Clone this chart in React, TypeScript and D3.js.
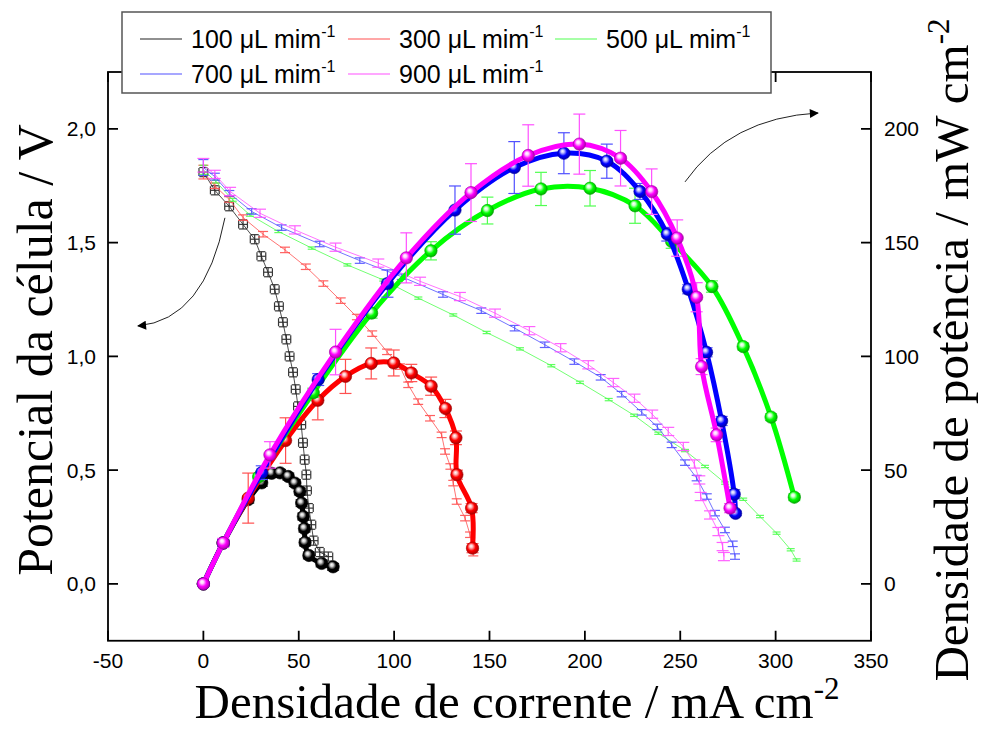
import React from "react";
import * as d3 from "d3";

const WIDTH = 983;
const HEIGHT = 729;

const xTickValues = [-50, 0, 50, 100, 150, 200, 250, 300, 350];
const vTickValues = [0, 0.5, 1.0, 1.5, 2.0];
const pTickValues = [0, 50, 100, 150, 200];

const flowRates = ["100", "300", "500", "700", "900"];
const seriesColors = ["#000000", "#ff0000", "#00ff00", "#0000ff", "#ff00ff"];
const lightColors = ["#222222", "#ff5050", "#50ff50", "#5050ff", "#ff50ff"];
const darkColors = ["#000000", "#a00000", "#00a000", "#0000a0", "#a000a0"];
const highlightColors = ["#d0d0d0", "#ffc0c0", "#d0ffd0", "#c0c0ff", "#ffd0ff"];

// Polarization curves: [j (mA cm-2), V, errV]
const polBlack = [
  [0, 1.81, 0.02], [6, 1.73, 0.02], [13.5, 1.66, 0.02], [20.8, 1.58, 0.02], [26.9, 1.515, 0.02],
  [30.4, 1.44, 0.02], [33.9, 1.37, 0.02], [37.4, 1.295, 0.02], [39.6, 1.22, 0.02], [41.7, 1.15, 0.02],
  [43.5, 1.075, 0.02], [45.2, 1.0, 0.02], [47, 0.93, 0.02], [48.4, 0.855, 0.02], [49.6, 0.78, 0.02],
  [51.3, 0.7, 0.02], [52.2, 0.62, 0.02], [53.1, 0.546, 0.02], [54, 0.48, 0.02], [54.3, 0.41, 0.02],
  [55.3, 0.333, 0.02], [56.6, 0.26, 0.02], [57.8, 0.19, 0.02], [61, 0.14, 0.02], [65.5, 0.12, 0.02],
];
const polBlackErrJ = 2.3;
const polRed = [
  [0, 1.81, 0.03], [6, 1.75, 0.012], [13.5, 1.69, 0.012], [20.8, 1.61, 0.012], [31.3, 1.537, 0.012],
  [42.8, 1.468, 0.012], [53.7, 1.394, 0.012], [62.9, 1.32, 0.012], [72, 1.245, 0.012], [80.5, 1.173, 0.012],
  [88.5, 1.1, 0.012], [96.3, 1.02, 0.012], [103.1, 0.955, 0.012], [107.4, 0.875, 0.012], [112.6, 0.801, 0.012],
  [118.8, 0.728, 0.012], [124.9, 0.655, 0.012], [126.7, 0.582, 0.012], [129.5, 0.516, 0.012], [131, 0.443, 0.012],
  [132.8, 0.362, 0.012], [137.2, 0.289, 0.012], [139.8, 0.216, 0.012], [141.5, 0.135, 0.012],
];
const polGreen = [
  [0, 1.82, 0.02], [6.6, 1.768, 0.006], [15.4, 1.688, 0.006], [24.4, 1.622, 0.006], [39.3, 1.549, 0.005],
  [56.8, 1.476, 0.005], [75.5, 1.402, 0.005], [94.3, 1.336, 0.005], [112.7, 1.256, 0.005], [131, 1.182, 0.005],
  [148.5, 1.105, 0.005], [166, 1.033, 0.005], [182.4, 0.959, 0.005], [197.4, 0.886, 0.005], [212.5, 0.81, 0.005],
  [225.8, 0.741, 0.005], [238.5, 0.662, 0.005], [252.5, 0.586, 0.005], [263, 0.516, 0.005], [273.5, 0.443, 0.005],
  [283, 0.372, 0.005], [291.8, 0.296, 0.005], [300.5, 0.223, 0.005], [307.9, 0.15, 0.005], [311, 0.105, 0.005],
];
const polBlue = [
  [0, 1.83, 0.035], [6, 1.79, 0.015], [13.6, 1.717, 0.012], [25.3, 1.637, 0.012], [41, 1.566, 0.012],
  [61, 1.494, 0.012], [82, 1.421, 0.012], [104, 1.35, 0.012], [125.6, 1.272, 0.012], [145.7, 1.201, 0.012],
  [163.2, 1.124, 0.012], [179, 1.051, 0.012], [194.5, 0.977, 0.012], [208.3, 0.908, 0.012], [219.3, 0.834, 0.012],
  [229.8, 0.754, 0.012], [238, 0.69, 0.012], [245.5, 0.611, 0.012], [252.5, 0.533, 0.012], [258.6, 0.465, 0.012],
  [263.9, 0.384, 0.012], [268.2, 0.311, 0.012], [273.4, 0.237, 0.012], [277.5, 0.176, 0.012], [278.7, 0.12, 0.012],
];
const polMagenta = [
  [0, 1.84, 0.03], [6, 1.8, 0.018], [14, 1.725, 0.018], [29.7, 1.629, 0.018], [48, 1.556, 0.018],
  [69.3, 1.48, 0.018], [91.7, 1.41, 0.018], [113.6, 1.33, 0.018], [134.5, 1.263, 0.018], [152.9, 1.19, 0.018],
  [170.9, 1.113, 0.018], [187.3, 1.038, 0.018], [201.8, 0.963, 0.018], [214.9, 0.885, 0.018], [226, 0.816, 0.018],
  [235.3, 0.746, 0.018], [243.7, 0.67, 0.018], [251.6, 0.604, 0.018], [257.4, 0.527, 0.018], [260, 0.457, 0.018],
  [260.7, 0.384, 0.018], [265.6, 0.303, 0.018], [270, 0.23, 0.018], [272.2, 0.164, 0.018], [272.9, 0.12, 0.018],
];

// Power density curves: [j (mA cm-2), P (mW cm-2), errP]
const powBlack = [
  [0, 0, 1], [10.4, 18, 1.5], [23.5, 37, 1.5], [30.6, 44.4, 1.5], [35.8, 48.6, 1.5], [40.2, 48.8, 1.5],
  [44.5, 47.2, 1.5], [48, 44.3, 1.5], [50.6, 40.6, 1.5], [51.5, 35.5, 1.5], [52.4, 29.6, 1.5],
  [53, 24.3, 1.5], [53.3, 18.2, 1.5], [55.3, 12.5, 1.5], [62, 9, 1.5], [68, 7.5, 1.5],
];
const powRed = [
  [0, 0, 1], [10.4, 18, 1.5], [23.5, 37.7, 11], [43.1, 63, 10], [60, 80.7, 8.6], [74.5, 91.2, 7.5],
  [88, 96.9, 6.8], [99.8, 97.1, 5.7], [109, 92.7, 3.8], [119.4, 86.9, 4], [126.9, 77.1, 4],
  [132.4, 64.2, 3], [132.9, 48, 2], [140.6, 33.3, 2], [141.1, 15.7, 2],
];
const powGreen = [
  [0, 0, 1], [10.4, 18, 1], [29, 47, 1.5], [57.6, 84, 2], [88.2, 119, 2.2], [119.3, 146.4, 4],
  [148.9, 164.1, 5.9], [177, 173.6, 7.3], [202.7, 173.9, 7.8], [226.3, 166.2, 7.7], [245.5, 150.5, 3],
  [266.6, 130.7, 2.5], [283, 104.3, 1.5], [297.6, 73.3, 1.5], [309.8, 38.1, 1.5],
];
const powBlue = [
  [0, 0, 1], [10.4, 18, 1.5], [30.6, 48.9, 3], [60.2, 89.8, 2.6], [96.5, 132, 6], [131.9, 164.3, 10.6],
  [163, 183, 11.4], [189, 189.3, 9], [211.5, 185.8, 7.5], [228.9, 172.5, 3.5], [243.2, 153.7, 3],
  [254.2, 129.5, 2], [263.8, 101.8, 2], [271.7, 71.6, 2], [278.3, 39.4, 2], [279, 31, 1],
];
const powMagenta = [
  [0, 0, 1], [10.4, 18, 2], [34.9, 56.7, 5.8], [69.3, 101.9, 10], [106.4, 143.3, 11], [140.3, 172, 12.7],
  [170.3, 188.3, 13.5], [197.1, 193.3, 13.2], [218.7, 187.1, 12.2], [235, 172.4, 10], [248.4, 152, 8],
  [258.6, 126, 6.4], [261.2, 95.5, 3.5], [269.1, 65.5, 3], [276.1, 33.3, 2],
];

// annotation arrows in data units [j, V]: start, control, end
const arrowToLeft = [[11.3, 1.609], [0.8, 1.16], [-34.3, 1.134]];
const arrowToRight = [[252.5, 1.767], [276.2, 2.048], [322.2, 2.07]];

const polSeries = [polBlack, polRed, polGreen, polBlue, polMagenta];
const powSeries = [powBlack, powRed, powGreen, powBlue, powMagenta];
const polCap = [8, 10, 8, 10, 12];

const fmtV = (v: number) => v.toFixed(1).replace(".", ",");

export default function App() {
  const left = 108, right = 871, top = 72, bottom = 640.75;
  const x = d3.scaleLinear().domain([-50, 350]).range([left, right]);
  const yV = d3.scaleLinear().domain([-0.25, 2.25]).range([bottom, top]);
  const yP = d3.scaleLinear().domain([-25, 225]).range([bottom, top]);

  const polLine = d3.line<number[]>().x((d) => x(d[0])).y((d) => yV(d[1]));
  const powLine = d3
    .line<number[]>()
    .x((d) => x(d[0]))
    .y((d) => yP(d[1]))
    .curve(d3.curveCatmullRom.alpha(0.5));

  const arrowPath = (a: number[][]) =>
    `M${x(a[0][0])},${yV(a[0][1])} Q${x(a[1][0])},${yV(a[1][1])} ${x(a[2][0])},${yV(a[2][1])}`;

  const tickLen = 10;
  const serif = "'Liberation Serif', 'Times New Roman', serif";
  const sans = "'Liberation Sans', Arial, sans-serif";

  const legendCols = [140, 348, 555];
  const legendRows = [39, 74];

  return (
    <svg
      width={WIDTH}
      height={HEIGHT}
      style={{ position: "absolute", left: 0, top: 0, background: "#fff" }}
    >
      <defs>
        {seriesColors.map((c, i) => (
          <radialGradient key={i} id={`sph${i}`} cx="0.45" cy="0.45" r="0.6" fx="0.38" fy="0.32">
            <stop offset="0%" stopColor="#ffffff" />
            <stop offset="22%" stopColor={highlightColors[i]} />
            <stop offset="55%" stopColor={c} />
            <stop offset="100%" stopColor={darkColors[i]} />
          </radialGradient>
        ))}
        <marker id="arrowHead" viewBox="0 0 10 10" refX="9" refY="5" markerWidth="14" markerHeight="9" orient="auto" markerUnits="userSpaceOnUse">
          <path d="M0,0 L10,5 L0,10 z" fill="#000" />
        </marker>
      </defs>
      <rect x={0} y={0} width={WIDTH} height={HEIGHT} fill="#fff" />

      {/* polarization curves (thin) */}
      {polSeries.map((s, i) => (
        <g key={`pol${i}`}>
          <path d={polLine(s) || ""} fill="none" stroke={lightColors[i]} strokeWidth={1} opacity={0.8} />
          {s.map((d, k) => {
            const cx = x(d[0]);
            const y1 = yV(d[1] - d[2]);
            const y2 = yV(d[1] + d[2]);
            const cw = polCap[i] / 2;
            return (
              <g key={k} stroke={lightColors[i]} strokeWidth={1.2} opacity={0.9}>
                <line x1={cx} x2={cx} y1={y1} y2={y2} />
                <line x1={cx - cw} x2={cx + cw} y1={y1} y2={y1} />
                <line x1={cx - cw} x2={cx + cw} y1={y2} y2={y2} />
                {i === 0 && (
                  <>
                    <line x1={x(d[0] - polBlackErrJ)} x2={x(d[0] + polBlackErrJ)} y1={yV(d[1])} y2={yV(d[1])} />
                    <line x1={x(d[0] - polBlackErrJ)} x2={x(d[0] - polBlackErrJ)} y1={yV(d[1]) - cw} y2={yV(d[1]) + cw} />
                    <line x1={x(d[0] + polBlackErrJ)} x2={x(d[0] + polBlackErrJ)} y1={yV(d[1]) - cw} y2={yV(d[1]) + cw} />
                  </>
                )}
              </g>
            );
          })}
        </g>
      ))}

      {/* power curves (thick) */}
      {powSeries.map((s, i) => (
        <g key={`pow${i}`}>
          {s.map((d, k) => {
            const cx = x(d[0]);
            const y1 = yP(d[1] - d[2]);
            const y2 = yP(d[1] + d[2]);
            return (
              <g key={k} stroke={lightColors[i]} strokeWidth={1.2}>
                <line x1={cx} x2={cx} y1={y1} y2={y2} />
                <line x1={cx - 6} x2={cx + 6} y1={y1} y2={y1} />
                <line x1={cx - 6} x2={cx + 6} y1={y2} y2={y2} />
              </g>
            );
          })}
          <path d={powLine(s) || ""} fill="none" stroke={seriesColors[i]} strokeWidth={5} strokeLinejoin="round" strokeLinecap="round" />
          {s.map((d, k) => (
            <circle key={k} cx={x(d[0])} cy={yP(d[1])} r={6.2} fill={`url(#sph${i})`} stroke={darkColors[i]} strokeWidth={0.6} />
          ))}
        </g>
      ))}

      {/* arrows */}
      <path d={arrowPath(arrowToLeft)} fill="none" stroke="#222" strokeWidth={1} markerEnd="url(#arrowHead)" />
      <path d={arrowPath(arrowToRight)} fill="none" stroke="#222" strokeWidth={1} markerEnd="url(#arrowHead)" />

      {/* frame */}
      <rect x={left} y={top} width={right - left} height={bottom - top} fill="none" stroke="#000" strokeWidth={1.8} />

      {/* x ticks bottom & top */}
      {xTickValues.map((t) => (
        <g key={`xt${t}`}>
          <line x1={x(t)} x2={x(t)} y1={bottom} y2={bottom - tickLen} stroke="#000" strokeWidth={1.8} />
          <line x1={x(t)} x2={x(t)} y1={top} y2={top + tickLen} stroke="#000" strokeWidth={1.8} />
          <text x={x(t)} y={bottom + 27} fontFamily={sans} fontSize={21} textAnchor="middle" fill="#000">
            {String(t)}
          </text>
        </g>
      ))}
      {/* left ticks */}
      {vTickValues.map((t) => (
        <g key={`vt${t}`}>
          <line x1={left} x2={left + tickLen} y1={yV(t)} y2={yV(t)} stroke="#000" strokeWidth={1.8} />
          <text x={left - 12} y={yV(t) + 7.5} fontFamily={sans} fontSize={21} textAnchor="end" fill="#000">
            {fmtV(t)}
          </text>
        </g>
      ))}
      {/* right ticks */}
      {pTickValues.map((t) => (
        <g key={`pt${t}`}>
          <line x1={right} x2={right - tickLen} y1={yP(t)} y2={yP(t)} stroke="#000" strokeWidth={1.8} />
          <text x={right + 13} y={yP(t) + 7.5} fontFamily={sans} fontSize={21} textAnchor="start" fill="#000">
            {String(t)}
          </text>
        </g>
      ))}

      {/* axis titles */}
      <text x={517} y={718} fontFamily={serif} fontSize={49} textAnchor="middle" fill="#000">
        Densidade de corrente / mA cm<tspan dy={-19} fontSize={31}>-2</tspan>
      </text>
      <text transform={`translate(52,350) rotate(-90)`} fontFamily={serif} fontSize={50} textAnchor="middle" fill="#000">
        Potencial da célula / V
      </text>
      <text transform={`translate(968,350) rotate(-90)`} fontFamily={serif} fontSize={49} textAnchor="middle" fill="#000">
        Densidade de potência / mW cm<tspan dy={-19} fontSize={31}>-2</tspan>
      </text>

      {/* legend */}
      <rect x={122} y={12} width={649} height={81} fill="#fff" stroke="#555" strokeWidth={1.5} />
      {flowRates.map((f, i) => {
        const col = legendCols[i % 3];
        const row = legendRows[Math.floor(i / 3)];
        return (
          <g key={`lg${i}`}>
            <line x1={col} x2={col + 42} y1={row} y2={row} stroke={lightColors[i]} strokeWidth={1.2} />
            <text x={col + 51} y={row + 9} fontFamily={sans} fontSize={25} fill="#000">
              {f} μL mim<tspan dy={-11} fontSize={16}>-1</tspan>
            </text>
          </g>
        );
      })}
    </svg>
  );
}
